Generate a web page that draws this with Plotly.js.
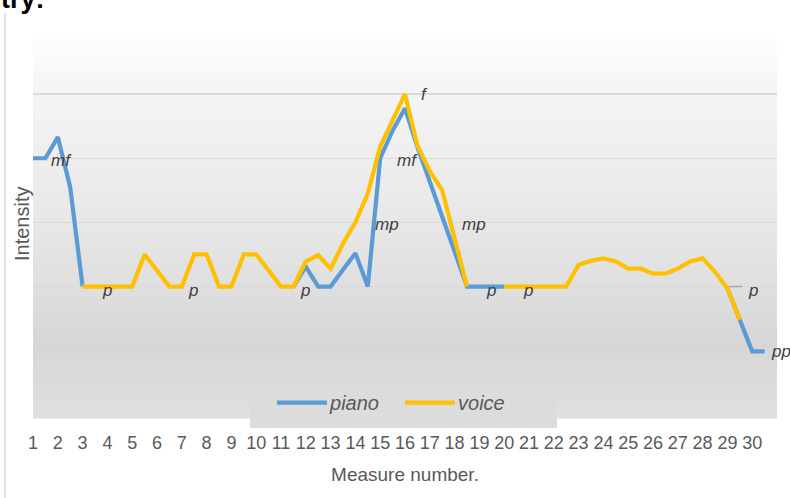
<!DOCTYPE html>
<html>
<head>
<meta charset="utf-8">
<script src="https://cdn.plot.ly/plotly-3.0.1.min.js"></script>
<style>html,body{margin:0;padding:0;background:#fff;}#chart{width:790px;height:498px;}</style>
</head>
<body>
<div id="chart"></div>
<script>
// Measure positions (half-measure steps)
var measures = [1,1.5,2,2.5,3,3.5,4,4.5,5,5.5,6,6.5,7,7.5,8,8.5,9,9.5,10,10.5,11,11.5,12,12.5,13,13.5,14,14.5,15,15.5,16,16.5,17,17.5,18,18.5,19,19.5,20,20.5,21,21.5,22,22.5,23,23.5,24,24.5,25,25.5,26,26.5,27,27.5,28,28.5,29,29.5,30,30.5];

// Intensity levels: 1 = pp, 2 = p, 3 = mp, 4 = mf, 5 = f
var piano = [4,4,4.33,3.55,2,null,null,null,null,null,null,null,null,null,null,null,null,null,null,null,null,2,2.31,2,2,2.26,2.52,2,4.0,4.43,4.78,4.18,3.63,3.09,2.55,2,2,2,2,null,null,null,null,null,null,null,null,null,null,null,null,null,null,null,null,null,1.97,1.48,0.99,0.99];

var voice = [null,null,null,null,2,2,2,2,2,2.5,2.25,2,2,2.5,2.5,2,2,2.5,2.5,2.25,2,2,2.39,2.49,2.28,2.67,3.0,3.45,4.18,4.59,5.0,4.2,3.8,3.5,2.76,2,null,null,2,2,2,2,2,2,2.34,2.4,2.44,2.39,2.28,2.28,2.2,2.2,2.28,2.39,2.44,2.23,1.97,1.48,null,null];

var tickVals = [1,2,3,4,5,6,7,8,9,10,11,12,13,14,15,16,17,18,19,20,21,22,23,24,25,26,27,28,29,30];
var tickText = ["1","2","3","4","5","6","7","8","9","10","11","12","13","14","15","16","17","18","19","20","21","22","23","24","25","26","27","28","29","30"];
var gridLevels = [2,3,4,5,6];

// Dynamic marking labels (data coordinates)
var dynText = ["mf","p","p","p","mp","f","mf","mp","p","p","p"];
var dynX    = [2.13,3.98,7.45,11.97,15.27,16.8,16.12,18.78,19.47,20.96,30.03];
var dynY    = [3.97,1.94,1.94,1.94,2.97,4.99,3.96,2.96,1.94,1.94,1.94];
var lastText = "pp", lastY = 0.98;

var FONT = "Liberation Sans, Arial, sans-serif";
var GRAY = "#595959";

var traces = [
  {x: measures, y: piano, name: "piano", type: "scatter", mode: "lines",
   line: {color: "#5b9bd5", width: 4.2}, connectgaps: false},
  {x: measures, y: voice, name: "voice", type: "scatter", mode: "lines",
   line: {color: "#ffc000", width: 4.2}, connectgaps: false}
];

// gradient background (pixel-row based colour stops, top=30, bottom=418)
var stops = [[30,255],[45,252],[94,244],[158,238],[222,231],[287,223],[345,214],[418,224]];
function shade(py) {
  for (var s = 0; s < stops.length - 1; s++) {
    if (py <= stops[s + 1][0]) {
      var a = stops[s], b = stops[s + 1];
      return a[1] + (b[1] - a[1]) * (py - a[0]) / (b[0] - a[0]);
    }
  }
  return stops[stops.length - 1][1];
}
var shapes = [];
var TOP = 30, H = 388, STEP = 4;
for (var py = 0; py < H; py += STEP) {
  var c = Math.round(shade(TOP + py + STEP / 2));
  shapes.push({type: "rect", xref: "paper", yref: "paper", x0: 0, x1: 1,
    y0: 1 - (py + STEP + 0.5) / H, y1: 1 - py / H, fillcolor: "rgb(" + c + "," + c + "," + c + ")",
    line: {width: 0}, layer: "below"});
}
// legend box
shapes.push({type: "rect", xref: "paper", yref: "paper", x0: 0.2917, x1: 0.7043, y0: -0.0258, y1: 0.0902,
  fillcolor: "#dcdcdc", line: {width: 0}, layer: "below"});
// left border of chart frame
shapes.push({type: "line", xref: "paper", yref: "paper", x0: -0.0376, x1: -0.0376,
  y0: 1.044, y1: -0.21, line: {color: "#d9d9d9", width: 1.5}});
// leader line for the last "p" label
shapes.push({type: "line", xref: "x", yref: "y", x0: 29.05, x1: 29.6, y0: 2.0, y1: 2.0,
  line: {color: "#a6a6a6", width: 1.5}});

var annotations = [];
for (var k = 0; k < dynText.length; k++) {
  annotations.push({x: dynX[k], y: dynY[k], xref: "x", yref: "y", text: dynText[k],
    showarrow: false, font: {family: FONT, size: 17, color: "#404040", style: "italic"}});
}
annotations.push({x: 0.989, y: lastY, xref: "paper", yref: "y", xanchor: "left", text: lastText,
  showarrow: false, font: {family: FONT, size: 17, color: "#404040", style: "italic"}});
annotations.push({x: -0.0148, y: 0.5, xref: "paper", yref: "paper", xanchor: "center", yanchor: "middle",
  text: "Intensity", textangle: -90,
  showarrow: false, font: {family: FONT, size: 20, color: GRAY}});
annotations.push({x: -0.046, y: 1.0348, xref: "paper", yref: "paper", xanchor: "left", yanchor: "bottom",
  text: "<b>try:</b>", showarrow: false, font: {family: FONT, size: 27, color: "#000"}});

var layout = {
  width: 790, height: 498,
  margin: {l: 33, r: 13, t: 30, b: 80, pad: 0},
  paper_bgcolor: "#ffffff",
  plot_bgcolor: "rgba(0,0,0,0)",
  font: {family: FONT, color: GRAY},
  showlegend: true,
  legend: {orientation: "h", x: 0.2917, xanchor: "left", y: 0.09, yanchor: "top",
    bgcolor: "rgba(0,0,0,0)", font: {family: FONT, size: 20, color: GRAY, style: "italic"},
    itemwidth: 70, entrywidth: 43, traceorder: "normal"},
  xaxis: {range: [1, 31], tickvals: tickVals, ticktext: tickText, showgrid: false,
    zeroline: false, showline: false, ticks: "", ticklabelstandoff: 12,
    tickfont: {family: FONT, size: 18, color: GRAY},
    title: {text: "Measure number.", font: {family: FONT, size: 19, color: GRAY}, standoff: 15},
    automargin: false, fixedrange: true},
  yaxis: {range: [-0.05, 6], tickvals: gridLevels, showticklabels: false, showgrid: true,
    gridcolor: "#d9d9d9", gridwidth: 1.5, zeroline: false, showline: false, ticks: "",
    automargin: false, fixedrange: true},
  shapes: shapes,
  annotations: annotations
};

Plotly.newPlot("chart", traces, layout, {staticPlot: true, displayModeBar: false}).then(function (gd) {
  var paths = gd.querySelectorAll(".legend .legendlines path");
  paths.forEach(function (p) { p.setAttribute("d", "M27,0h50"); });
});
</script>
</body>
</html>
